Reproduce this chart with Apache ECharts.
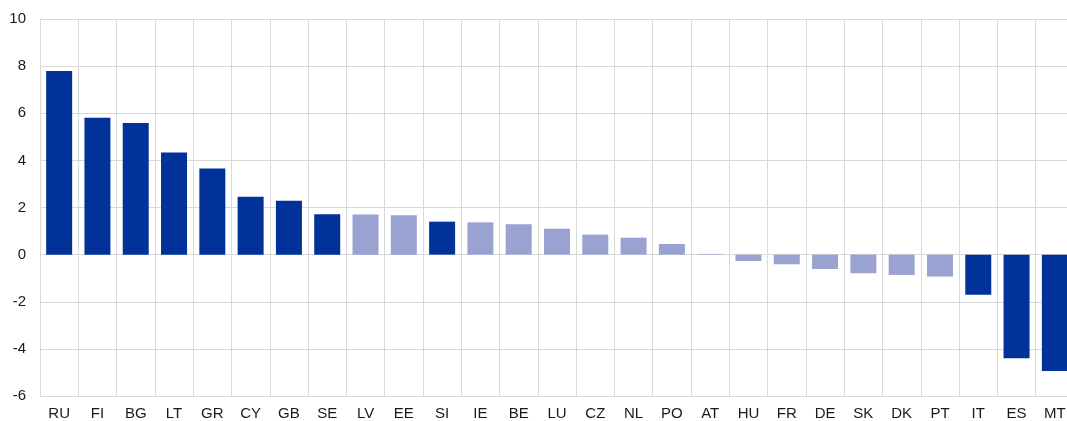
<!DOCTYPE html>
<html>
<head>
<meta charset="utf-8">
<script src="https://cdn.jsdelivr.net/npm/echarts@6/dist/echarts.min.js"></script>
<style>
  html, body { margin: 0; padding: 0; background: #fff; }
</style>
</head>
<body>
<div id="main" style="width:1067px;height:421px"></div>
<script>
// countries, sorted by value
const countries = ['RU', 'FI', 'BG', 'LT', 'GR', 'CY', 'GB', 'SE', 'LV', 'EE', 'SI', 'IE', 'BE', 'LU',
  'CZ', 'NL', 'PO', 'AT', 'HU', 'FR', 'DE', 'SK', 'DK', 'PT', 'IT', 'ES', 'MT']
const values = [7.79, 5.81, 5.59, 4.33, 3.65, 2.46, 2.29, 1.71, 1.70, 1.67, 1.40, 1.37, 1.29, 1.10,
  0.85, 0.72, 0.45, 0.03, -0.27, -0.41, -0.61, -0.79, -0.86, -0.93, -1.70, -4.40, -4.94]
// countries drawn in dark blue
const highlighted = ['RU', 'FI', 'BG', 'LT', 'GR', 'CY', 'GB', 'SE', 'SI', 'IT', 'ES', 'MT']

const darkBlue = '#003299'
const lightBlue = '#99a2d1'
const gridColor = '#d9d9d9'

const chart = echarts.init(document.getElementById('main'))
chart.setOption({
  animation: false,
  // plot runs a little past the right edge, like the original crop
  grid: { left: 40, width: 1034, top: 19, bottom: 25, outerBoundsMode: 'none' },
  xAxis: {
    type: 'category',
    data: countries,
    axisLine: { show: false },
    axisTick: { show: false },
    splitLine: { show: true, lineStyle: { color: gridColor, width: 1 } },
    axisLabel: {
      interval: 0,
      margin: 10,
      color: '#1a1a1a',
      fontSize: 15,
      fontFamily: 'Liberation Sans, Arial, sans-serif'
    }
  },
  yAxis: {
    type: 'value',
    min: -6,
    max: 10,
    interval: 2,
    axisLine: { show: true, lineStyle: { color: gridColor } },
    axisTick: { show: false },
    splitLine: { lineStyle: { color: gridColor, width: 1 } },
    axisLabel: {
      margin: 14,
      color: '#1a1a1a',
      fontSize: 15,
      fontFamily: 'Liberation Sans, Arial, sans-serif'
    }
  },
  series: [{
    type: 'bar',
    data: values,
    barWidth: 26,
    itemStyle: {
      color: function (params) {
        return highlighted.indexOf(params.name) >= 0 ? darkBlue : lightBlue
      }
    }
  }]
})
</script>
</body>
</html>
